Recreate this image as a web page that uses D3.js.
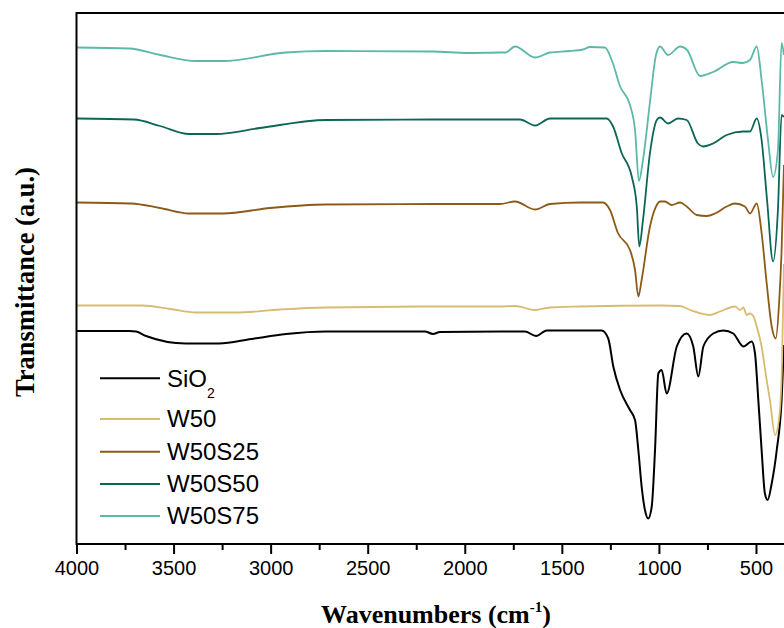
<!DOCTYPE html>
<html>
<head>
<meta charset="utf-8">
<script src="https://cdn.jsdelivr.net/npm/d3@7/dist/d3.min.js"></script>
<style>
  html, body { margin: 0; padding: 0; background: #fff; }
  svg { display: block; }
</style>
</head>
<body>
<svg id="chart" width="784" height="628"></svg>
<script>
// ---------- DATA (wavenumber in cm-1, transmittance in a.u., curves offset) ----------
const seriesNames = ["SiO\u2082", "W50", "W50S25", "W50S50", "W50S75"];
const seriesColors = ["#000000", "#d8bb70", "#8c5a18", "#0c6656", "#5cb8a8"];

const sio2Wn = [4000,3728,3693,3642,3436,3266,3100,2921,2715,2205,2164,2128,1819,1690,1633,1578,1295,1261,1235,1200,1149,1123,1106,1089,1072,1055,1037,1020,1003,986,960,908,857,823,797,771,720,668,617,565,522,505,488,471,454,440,419,393,368,356];
const sio2T  = [42.6,42.6,42.5,41.6,40.1,40.1,41.0,42.0,42.5,42.5,42.0,42.4,42.5,42.5,41.6,42.7,42.7,41.1,35.5,30.8,26.8,24.8,18.8,11.5,6.8,5.1,7.5,18.8,34.1,34.8,30.1,39.5,42.1,39.5,33.5,39.5,42.1,42.7,42.1,39.5,40.5,38.1,28.8,18.8,10.1,8.8,12.1,18.8,28.8,39.8];

const w50Wn = [4000,3659,3518,3384,3178,2950,2715,2164,1819,1741,1638,1561,1406,994,891,840,737,685,608,582,565,548,531,514,496,471,445,428,402,379,366,356];
const w50T  = [47.7,47.7,47.0,46.3,46.3,46.9,47.3,47.5,47.5,47.6,46.8,47.3,47.5,47.7,47.6,46.8,45.8,46.5,47.5,46.8,47.3,45.8,46.1,45.6,43.5,39.5,32.8,28.8,21.8,25.8,36.0,56.0];

const w50s25Wn = [4000,3719,3570,3420,3245,3003,2715,2164,1819,1741,1638,1561,1406,1288,1252,1211,1149,1123,1106,1089,1046,1011,994,969,934,891,857,805,754,711,651,608,557,531,496,471,445,419,398,380,368,356];
const w50s25T  = [68.3,68.1,67.2,66.1,66.1,67.2,67.9,68.0,68.0,68.5,66.9,68.0,68.3,68.3,66.8,62.2,58.8,54.8,49.5,52.8,63.5,67.8,68.5,68.5,67.8,68.3,67.5,65.8,65.6,66.1,67.5,68.1,67.5,66.1,68.1,62.2,52.2,43.5,41.1,48.8,58.8,75.8];

const w50s50Wn = [4000,3704,3570,3420,3281,3055,2715,2164,1819,1716,1638,1561,1458,1269,1236,1192,1140,1114,1101,1082,1046,1011,994,953,902,857,799,773,721,651,567,531,496,471,443,412,387,368,356];
const w50s50T  = [85.1,84.9,83.6,82.0,82.0,83.2,84.8,84.9,84.9,84.9,83.7,85.1,85.1,85.1,83.5,78.2,73.5,67.5,59.5,64.8,78.2,84.8,85.3,84.1,85.1,84.8,80.1,79.5,80.1,81.8,82.5,82.5,85.1,80.8,68.8,56.5,66.8,85.8,85.4];

const w50s75Wn = [4000,3728,3570,3384,3245,2921,2715,2164,1983,1819,1790,1741,1638,1561,1458,1391,1355,1278,1243,1200,1149,1123,1103,1082,1046,1015,994,953,891,855,788,721,618,567,531,496,471,438,412,387,368,356];
const w50s75T  = [99.3,99.1,97.8,96.6,96.6,98.3,98.6,98.5,98.2,98.3,98.3,99.5,97.3,98.3,98.6,98.9,99.4,99.3,96.8,91.5,87.8,82.8,72.6,76.8,88.4,97.8,99.5,97.8,99.5,98.8,93.6,94.4,96.4,96.2,96.8,99.5,92.8,80.8,73.4,78.8,100.2,97.8];

const xTicks = [4000, 3500, 3000, 2500, 2000, 1500, 1000, 500];
const xMinorTicks = [3750, 3250, 2750, 2250, 1750, 1250, 750];

// ---------- LAYOUT ----------
const svg = d3.select("#chart");
const plot = { left: 76.5, right: 785.1, top: 13, bottom: 544 };

const x = d3.scaleLinear().domain([4000, 350]).range([plot.left, plot.right]);
const y = d3.scaleLinear().domain([0, 106.2]).range([plot.bottom, plot.top]);

svg.append("defs").append("clipPath").attr("id", "clip")
  .append("rect")
  .attr("x", plot.left).attr("y", plot.top)
  .attr("width", plot.right - plot.left).attr("height", plot.bottom - plot.top);

const allSeries = [
  { wn: sio2Wn, t: sio2T },
  { wn: w50Wn, t: w50T },
  { wn: w50s25Wn, t: w50s25T },
  { wn: w50s50Wn, t: w50s50T },
  { wn: w50s75Wn, t: w50s75T }
];

const line = d3.line()
  .x(d => x(d[0]))
  .y(d => y(d[1]))
  .curve(d3.curveMonotoneX);

const g = svg.append("g").attr("clip-path", "url(#clip)");
allSeries.forEach((s, i) => {
  const pts = s.wn.map((w, k) => [w, s.t[k]]).sort((a, b) => a[0] - b[0]);
  g.append("path")
    .attr("d", line(pts))
    .attr("fill", "none")
    .attr("stroke", seriesColors[i])
    .attr("stroke-width", i === 0 ? 2 : 1.8)
    .attr("stroke-linejoin", "round");
});

// frame: top and left
svg.append("line")
  .attr("x1", plot.left).attr("x2", 784).attr("y1", plot.top).attr("y2", plot.top)
  .attr("stroke", "#000").attr("stroke-width", 2);
svg.append("line")
  .attr("x1", plot.left).attr("x2", plot.left).attr("y1", plot.top - 1).attr("y2", plot.bottom + 1)
  .attr("stroke", "#000").attr("stroke-width", 2);

// x axis
const xAxis = d3.axisBottom(x).tickValues(xTicks).tickSize(10).tickSizeOuter(0).tickPadding(7)
  .tickFormat(d3.format("d"));
const ax = svg.append("g").attr("transform", `translate(0,${plot.bottom})`).call(xAxis);
ax.select(".domain").attr("stroke-width", 2).attr("d", `M${plot.left},0H784`);
ax.selectAll(".tick line").attr("stroke-width", 2);
ax.selectAll(".tick text")
  .attr("font-family", "Liberation Sans, Arial, sans-serif")
  .attr("font-size", 20).attr("fill", "#000");

const axMinor = d3.axisBottom(x).tickValues(xMinorTicks).tickSize(6).tickSizeOuter(0).tickFormat("");
const axm = svg.append("g").attr("transform", `translate(0,${plot.bottom})`).call(axMinor);
axm.select(".domain").remove();
axm.selectAll(".tick line").attr("stroke-width", 2);

// axis titles
const xTitle = svg.append("text")
  .attr("x", 436).attr("y", 623)
  .attr("text-anchor", "middle")
  .attr("font-family", "Liberation Serif, Times New Roman, serif")
  .attr("font-weight", "bold").attr("font-size", 26).attr("fill", "#000");
xTitle.append("tspan").text("Wavenumbers (cm");
xTitle.append("tspan").attr("font-size", 15).attr("dy", -11).text("-1");
xTitle.append("tspan").attr("dy", 11).text(")");

svg.append("text")
  .attr("transform", `translate(34,282) rotate(-90)`)
  .attr("text-anchor", "middle")
  .attr("font-family", "Liberation Serif, Times New Roman, serif")
  .attr("font-weight", "bold").attr("font-size", 26.5).attr("fill", "#000")
  .text("Transmittance (a.u.)");

// legend
const legendRows = [378.3, 419, 451.7, 484, 516];
const leg = svg.append("g");
seriesNames.forEach((name, i) => {
  const ry = legendRows[i];
  leg.append("line")
    .attr("x1", 100).attr("x2", 160).attr("y1", ry).attr("y2", ry)
    .attr("stroke", seriesColors[i]).attr("stroke-width", 2);
  const t = leg.append("text")
    .attr("x", 167).attr("y", ry + 8.4)
    .attr("font-family", "Liberation Sans, Arial, sans-serif")
    .attr("font-size", 24).attr("fill", "#000");
  if (i === 0) {
    t.append("tspan").text("SiO");
    t.append("tspan").attr("font-size", 14).attr("dy", 11).text("2");
  } else {
    t.text(name);
  }
});
</script>
</body>
</html>
